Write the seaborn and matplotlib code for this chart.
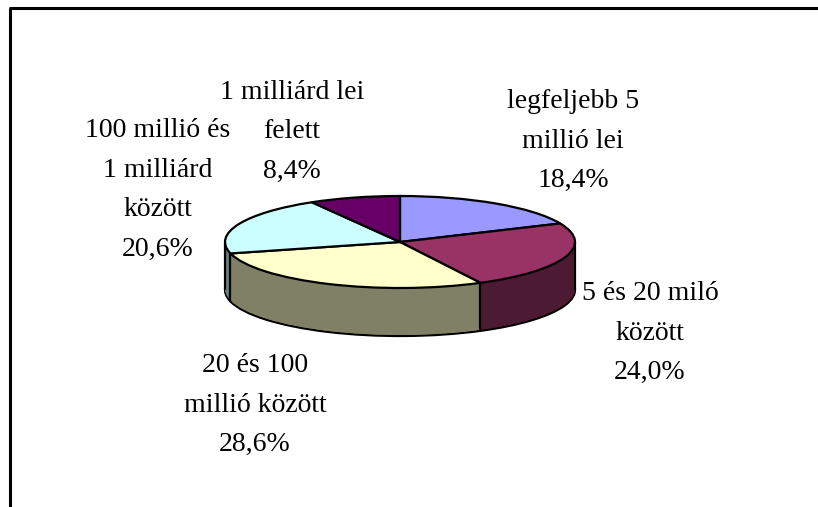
import numpy as np
import matplotlib
matplotlib.use("Agg")
import matplotlib.pyplot as plt
from matplotlib.lines import Line2D
import seaborn as sns

# Slice values in percent, clockwise from the top
values = [18.4, 24.0, 28.6, 20.6, 8.4]
names = ["legfeljebb 5\nmillió lei", "5 és 20 miló\nközött", "20 és 100\nmillió között",
         "100 millió és\n1 milliárd\nközött", "1 milliárd lei\nfelett"]
top_colors = ["#9999ff", "#993366", "#ffffcc", "#ccffff", "#660066"]
side_colors = ["#4d4d80", "#4d1a33", "#808066", "#668080", "#330033"]

# Label centres in pixels
label_x = [573, 650, 255, 158, 292]
label_y = [141, 333, 405, 190, 132]

W, H = 818, 507
CX, CY = 400, 242
RX, RY = 175, 46
DEPTH = 48

sns.set_theme(style="white")
plt.rcParams['font.family'] = ['Liberation Serif', 'DejaVu Serif']

fig = plt.figure(figsize=(W / 100, H / 100), dpi=100)
ax = fig.add_axes([0, 0, 1, 1])

# Side wall: the same pie stacked downward in the darker colours
for d in range(DEPTH, 0, -1):
    edge = 'black' if d == DEPTH else 'none'
    ax.pie(values, colors=sns.color_palette(side_colors), startangle=90, counterclock=False,
           center=(0, -d / RY), wedgeprops=dict(edgecolor=edge, linewidth=1.6))

# Top face
wedges, _ = ax.pie(values, colors=sns.color_palette(top_colors), startangle=90, counterclock=False,
                   center=(0, 0), wedgeprops=dict(edgecolor='black', linewidth=1.6))

# Vertical edges of the wall at the visible slice borders and at both ends
angles = [w.theta1 for w in wedges]
angles = [a for a in angles if np.sin(np.radians(a)) < 0] + [0, 180]
for a in angles:
    x = np.cos(np.radians(a))
    y = np.sin(np.radians(a))
    ax.plot([x, x], [y, y - DEPTH / RY], color='black', lw=1.6, solid_capstyle='butt')

ax.set_aspect('auto')
ax.set_xlim(-CX / RX, (W - CX) / RX)
ax.set_ylim(-(H - CY) / RY, CY / RY)
ax.axis('off')

for name, v, x, y in zip(names, values, label_x, label_y):
    txt = name + "\n" + f"{v:.1f}".replace('.', ',') + "%"
    fig.text(x / W, 1 - y / H, txt, ha='center', va='center', fontsize=20,
             linespacing=1.77, color='black')

# Chart frame: only the left and top edges show in the crop
fig.add_artist(Line2D([10 / W, 10 / W], [0, 1 - 8 / H], color='black', lw=2.2, solid_capstyle='butt'))
fig.add_artist(Line2D([9 / W, 1], [1 - 8 / H, 1 - 8 / H], color='black', lw=2.2, solid_capstyle='butt'))

fig.savefig("out.png", dpi=100)
